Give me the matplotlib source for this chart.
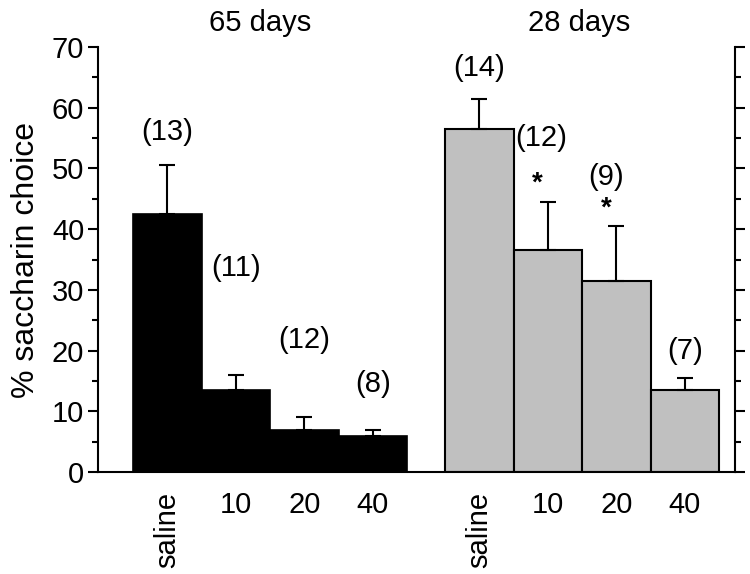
import matplotlib
matplotlib.use("Agg")
import matplotlib.pyplot as plt
import numpy as np

plt.rcParams["font.family"] = ["Liberation Sans", "DejaVu Sans"]

# data
labels = ["saline", "10", "20", "40"]
days65_mean = [42.5, 13.5, 7.0, 6.0]
days65_err = [8.0, 2.5, 2.0, 1.0]
days65_n = ["(13)", "(11)", "(12)", "(8)"]
days28_mean = [56.5, 36.5, 31.5, 13.5]
days28_err = [5.0, 8.0, 9.0, 2.0]
days28_n = ["(14)", "(12)", "(9)", "(7)"]
days28_sig = [False, True, True, False]

FS = 21

fig = plt.figure(figsize=(7.5, 5.74), dpi=100)
ax = fig.add_axes([0.1307, 0.1777, 0.8493, 0.7404])

x65 = np.arange(4)
x28 = np.arange(4) + 4.55

ax.bar(x65, days65_mean, width=1.0, color="black", edgecolor="black", lw=1.2)
ax.bar(x28, days28_mean, width=1.0, color="#c0c0c0", edgecolor="black", lw=1.5)
for xs, m, e in [(x65, days65_mean, days65_err), (x28, days28_mean, days28_err)]:
    ax.errorbar(xs, m, yerr=[np.zeros(4), e], fmt="none", ecolor="black",
                elinewidth=1.5, capsize=6, capthick=1.5)

# n labels and significance stars
n65_y = [56, 33.6, 21.8, 14.5]
n28_y = [66.5, 55, 48.6, 20]
n28_dx = [0, -0.1, -0.15, 0]
for x, y, t in zip(x65, n65_y, days65_n):
    ax.text(x, y, t, ha="center", va="center", fontsize=FS)
for x, y, t, dx in zip(x28, n28_y, days28_n, n28_dx):
    ax.text(x + dx, y, t, ha="center", va="center", fontsize=FS)
for x, m, e, s in zip(x28, days28_mean, days28_err, days28_sig):
    if s:
        ax.text(x - 0.15, m + e + 0.8, "*", ha="center", va="bottom",
                fontsize=20, fontweight="bold")

ax.text(1.35, 74, "65 days", ha="center", va="center", fontsize=FS)
ax.text(6.0, 74, "28 days", ha="center", va="center", fontsize=FS)

ax.set_xlim(-1.01, 8.28)
ax.set_ylim(0, 70)
ax.set_yticks(np.arange(0, 71, 10))
ax.set_yticks(np.arange(5, 70, 10), minor=True)
ax.tick_params(axis="y", which="both", direction="out", labelsize=FS, width=1.5,
               right=True, left=True, pad=3)
ax.tick_params(axis="y", which="major", length=7)
ax.tick_params(axis="y", which="minor", length=4)
ax.set_xticks(list(x65) + list(x28))
ax.set_xticklabels(labels + labels, fontsize=FS)
ax.tick_params(axis="x", length=0, pad=14)
for lab in ax.get_xticklabels():
    if lab.get_text() == "saline":
        lab.set_rotation(90)
        lab.set_va("top")
ax.spines["top"].set_visible(False)
for sp in ["left", "right", "bottom"]:
    ax.spines[sp].set_linewidth(1.5)
ax.set_ylabel("% saccharin choice", fontsize=23, labelpad=8)

fig.savefig("out.png", dpi=100)
